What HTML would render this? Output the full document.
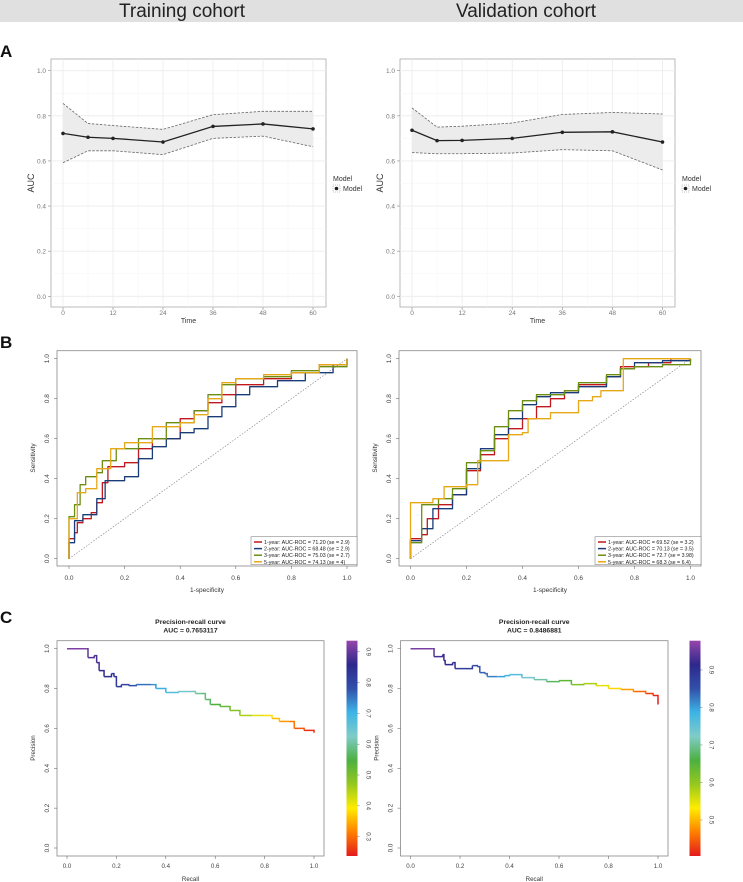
<!DOCTYPE html>
<html><head><meta charset="utf-8"><style>
html,body{margin:0;padding:0;background:#fff;}
svg{display:block;font-family:"Liberation Sans",sans-serif;}
</style></head><body>
<svg id="fig" width="743" height="882" viewBox="0 0 743 882" xmlns="http://www.w3.org/2000/svg"></svg>
<script>
// ---------- DATA ----------
const aTimes = [0, 6, 12, 24, 36, 48, 60];
const aTicks = [0, 12, 24, 36, 48, 60];
const aYTicks = [0, 0.2, 0.4, 0.6, 0.8, 1.0];
const trainAuc = [0.722, 0.705, 0.700, 0.684, 0.753, 0.764, 0.742];
const trainUpper = [0.855, 0.766, 0.757, 0.740, 0.805, 0.820, 0.820];
const trainLower = [0.592, 0.645, 0.645, 0.628, 0.700, 0.710, 0.663];
const validAuc = [0.736, 0.690, 0.691, 0.700, 0.727, 0.729, 0.684];
const validUpper = [0.835, 0.750, 0.754, 0.768, 0.806, 0.815, 0.808];
const validLower = [0.637, 0.632, 0.632, 0.635, 0.650, 0.645, 0.560];

const rocTicks = [0, 0.2, 0.4, 0.6, 0.8, 1.0];
const trainRoc1Fpr = [0,0,0.02,0.03,0.05,0.08,0.10,0.12,0.14,0.20,0.25,0.30,0.40,0.45,0.50,0.55,0.60,0.70,0.80,0.90,1];
const trainRoc1Tpr = [0,0.10,0.13,0.18,0.20,0.23,0.28,0.38,0.46,0.48,0.55,0.60,0.70,0.74,0.78,0.82,0.87,0.90,0.93,0.97,1];
const trainRoc2Fpr = [0,0,0.02,0.05,0.10,0.13,0.20,0.25,0.30,0.35,0.40,0.45,0.50,0.55,0.60,0.65,0.75,0.85,0.95,1,1];
const trainRoc2Tpr = [0,0.08,0.19,0.22,0.30,0.39,0.41,0.50,0.56,0.60,0.63,0.65,0.71,0.76,0.82,0.86,0.89,0.93,0.97,0.98,1];
const trainRoc3Fpr = [0,0,0.02,0.04,0.06,0.10,0.12,0.17,0.25,0.35,0.45,0.50,0.55,0.60,0.70,0.80,0.90,1];
const trainRoc3Tpr = [0,0.21,0.27,0.37,0.41,0.43,0.49,0.55,0.60,0.68,0.74,0.82,0.87,0.90,0.91,0.94,0.96,1];
const trainRoc5Fpr = [0,0,0.02,0.03,0.06,0.10,0.15,0.20,0.30,0.40,0.45,0.50,0.55,0.60,0.70,0.80,0.90,1];
const trainRoc5Tpr = [0,0.20,0.20,0.33,0.35,0.45,0.55,0.58,0.66,0.68,0.72,0.80,0.88,0.90,0.92,0.93,0.97,1];
const validRoc1Fpr = [0,0,0.04,0.06,0.10,0.15,0.20,0.25,0.30,0.35,0.40,0.45,0.50,0.55,0.60,0.70,0.75,0.85,0.93,1];
const validRoc1Tpr = [0,0.10,0.12,0.20,0.27,0.32,0.44,0.52,0.60,0.65,0.70,0.76,0.80,0.84,0.87,0.91,0.96,0.98,1,1];
const validRoc2Fpr = [0,0,0.04,0.08,0.15,0.20,0.25,0.30,0.35,0.40,0.45,0.50,0.60,0.70,0.75,0.80,0.90,1];
const validRoc2Tpr = [0,0.09,0.15,0.25,0.32,0.45,0.55,0.62,0.70,0.77,0.81,0.83,0.86,0.91,0.95,0.98,0.99,1];
const validRoc3Fpr = [0,0,0.04,0.04,0.10,0.15,0.20,0.25,0.30,0.35,0.40,0.45,0.55,0.60,0.70,0.75,0.80,0.90,1];
const validRoc3Tpr = [0,0.08,0.10,0.27,0.30,0.35,0.48,0.54,0.66,0.74,0.79,0.82,0.84,0.88,0.92,0.95,0.96,0.97,1];
const validRoc5Fpr = [0,0,0.08,0.12,0.20,0.24,0.24,0.35,0.35,0.40,0.42,0.50,0.58,0.60,0.65,0.68,0.76,0.76,1];
const validRoc5Tpr = [0,0.28,0.30,0.36,0.37,0.37,0.49,0.49,0.62,0.63,0.70,0.73,0.73,0.79,0.81,0.84,0.84,1,1];
const trainRocLabels = ["1-year: AUC-ROC = 71.20 (se = 2.9)","2-year: AUC-ROC = 68.48 (se = 2.9)","3-year: AUC-ROC = 75.03 (se = 2.7)","5-year: AUC-ROC = 74.13 (se = 4)"];
const validRocLabels = ["1-year: AUC-ROC = 69.52 (se = 3.2)","2-year: AUC-ROC = 70.13 (se = 3.5)","3-year: AUC-ROC = 72.7 (se = 3.98)","5-year: AUC-ROC = 68.3 (se = 6.4)"];

const trainPrRecall = [0,0.08,0.085,0.11,0.12,0.13,0.15,0.18,0.19,0.20,0.22,0.25,0.28,0.34,0.36,0.40,0.45,0.50,0.52,0.54,0.56,0.58,0.62,0.66,0.70,0.75,0.80,0.83,0.86,0.90,0.92,0.96,1.0];
const trainPrPrecision = [1,1,0.955,0.965,0.93,0.89,0.86,0.875,0.86,0.81,0.82,0.815,0.82,0.82,0.80,0.78,0.785,0.785,0.775,0.775,0.745,0.72,0.71,0.69,0.665,0.665,0.665,0.65,0.635,0.635,0.60,0.59,0.578];
const validPrRecall = [0,0.09,0.095,0.13,0.135,0.14,0.17,0.18,0.25,0.27,0.28,0.30,0.31,0.35,0.38,0.40,0.45,0.50,0.55,0.60,0.65,0.70,0.75,0.80,0.85,0.90,0.95,0.98,1.0,1.0];
const validPrPrecision = [1,1,0.96,0.97,0.94,0.92,0.93,0.90,0.915,0.91,0.88,0.875,0.86,0.86,0.865,0.87,0.855,0.845,0.835,0.84,0.82,0.825,0.815,0.80,0.795,0.785,0.775,0.765,0.755,0.72];
const trainCbTicks = [0.3,0.4,0.5,0.6,0.7,0.8,0.9];
const validCbTicks = [0.5,0.6,0.7,0.8,0.9];

// ---------- HELPERS ----------
const NS = "http://www.w3.org/2000/svg";
const svg = document.getElementById('fig');
function mk(tag, attrs, name, parent) {
  const el = document.createElementNS(NS, tag);
  for (const k in attrs) el.setAttribute(k, attrs[k]);
  
  
  (parent || svg).appendChild(el);
  return el;
}
function txt(x, y, s, size, name, opts) {
  opts = opts || {};
  const t = mk('text', {x: x, y: y, 'font-size': size, fill: opts.fill || '#333', 'text-anchor': opts.anchor || 'middle',
    'font-weight': opts.weight || 'normal'}, name);
  if (opts.rot) t.setAttribute('transform', 'rotate(' + opts.rot + ' ' + x + ' ' + y + ')');
  t.textContent = s;
  return t;
}
function lin(d0, d1, r0, r1) { return v => r0 + (v - d0) / (d1 - d0) * (r1 - r0); }

// ---------- HEADER ----------
mk('rect', {x: 0, y: 0, width: 743, height: 22, fill: '#e0e0e0'}, 'header-bar');
txt(182, 17, 'Training cohort', 19, 'training-cohort-title', {fill: '#222'});
txt(526, 17, 'Validation cohort', 19, 'validation-cohort-title', {fill: '#222'});
txt(0, 57, 'A', 17, 'panel-a-label', {anchor: 'start', weight: 'bold', fill: '#111'});
txt(0, 348, 'B', 17, 'panel-b-label', {anchor: 'start', weight: 'bold', fill: '#111'});
txt(0, 623, 'C', 17, 'panel-c-label', {anchor: 'start', weight: 'bold', fill: '#111'});

// ---------- SECTION A ----------
function drawA(px0, px1, x0, x1, auc, up, lo, prefix) {
  const X = lin(0, 60, x0, x1), Y = lin(0, 1, 296.3, 70.7);
  const top = 59, bot = 307;
  mk('rect', {x: px0, y: top, width: px1 - px0, height: bot - top, fill: '#fff', stroke: '#aaa', 'stroke-width': 0.8}, prefix + '-panel');
  for (let v = 0.1; v < 1.05; v += 0.2) mk('line', {x1: px0, x2: px1, y1: Y(v), y2: Y(v), stroke: '#f4f4f4', 'stroke-width': 0.5}, prefix + '-minor-grid-y');
  [6, 18, 30, 42, 54].forEach(t => mk('line', {x1: X(t), x2: X(t), y1: top, y2: bot, stroke: '#f4f4f4', 'stroke-width': 0.5}, prefix + '-minor-grid-x'));
  aYTicks.forEach(v => {
    mk('line', {x1: px0, x2: px1, y1: Y(v), y2: Y(v), stroke: '#ebebeb', 'stroke-width': 0.8}, prefix + '-grid-y');
    mk('line', {x1: px0 - 3, x2: px0, y1: Y(v), y2: Y(v), stroke: '#888', 'stroke-width': 0.6}, prefix + '-tick-y');
    txt(px0 - 5, Y(v) + 2.5, v.toFixed(1), 6.5, prefix + '-y-tick-label', {anchor: 'end', fill: '#777'});
  });
  aTicks.forEach(t => {
    mk('line', {x1: X(t), x2: X(t), y1: top, y2: bot, stroke: '#ebebeb', 'stroke-width': 0.8}, prefix + '-grid-x');
    mk('line', {x1: X(t), x2: X(t), y1: bot, y2: bot + 3, stroke: '#888', 'stroke-width': 0.6}, prefix + '-tick-x');
    txt(X(t), 315, String(t), 6.5, prefix + '-x-tick-label', {fill: '#777'});
  });
  let d = '';
  aTimes.forEach((t, i) => d += (i ? 'L' : 'M') + X(t) + ',' + Y(up[i]));
  for (let i = aTimes.length - 1; i >= 0; i--) d += 'L' + X(aTimes[i]) + ',' + Y(lo[i]);
  mk('path', {d: d + 'Z', fill: '#ececec', stroke: 'none'}, prefix + '-ci-ribbon');
  const pl = arr => aTimes.map((t, i) => X(t) + ',' + Y(arr[i])).join(' ');
  mk('polyline', {points: pl(up), fill: 'none', stroke: '#666', 'stroke-width': 0.8, 'stroke-dasharray': '2.5,1.5'}, prefix + '-upper-ci');
  mk('polyline', {points: pl(lo), fill: 'none', stroke: '#666', 'stroke-width': 0.8, 'stroke-dasharray': '2.5,1.5'}, prefix + '-lower-ci');
  mk('polyline', {points: pl(auc), fill: 'none', stroke: '#222', 'stroke-width': 1.3}, prefix + '-auc-line');
  aTimes.forEach((t, i) => mk('circle', {cx: X(t), cy: Y(auc[i]), r: 1.8, fill: '#222'}, prefix + '-auc-point'));
  txt((px0 + px1) / 2, 323, 'Time', 7, prefix + '-x-axis-title', {fill: '#333'});
  txt(px0 - 17, 183, 'AUC', 9, prefix + '-y-axis-title', {rot: -90, fill: '#333'});
  txt(px1 + 7, 181, 'Model', 7, prefix + '-legend-title', {anchor: 'start'});
  mk('rect', {x: px1 + 7, y: 185, width: 7, height: 7, fill: '#fff', stroke: '#888', 'stroke-width': 0.5, 'stroke-dasharray': '1,1'}, prefix + '-legend-key');
  mk('circle', {cx: px1 + 10.5, cy: 188.5, r: 1.8, fill: '#222'}, prefix + '-legend-key-point');
  txt(px1 + 17, 191, 'Model', 7, prefix + '-legend-label', {anchor: 'start'});
}
drawA(51, 326, 63, 313, trainAuc, trainUpper, trainLower, 'train-auc');
drawA(400, 675, 412, 662.5, validAuc, validUpper, validLower, 'valid-auc');

// ---------- SECTION B ----------
const rocColors = ['#c0181e', '#1a3d7a', '#6b8e12', '#e6a817'];
function drawB(bx0, bx1, x0, x1, fprs, tprs, labels, prefix) {
  const X = lin(0, 1, x0, x1), Y = lin(0, 1, 558.7, 358.7);
  mk('rect', {x: bx0, y: 350.7, width: bx1 - bx0, height: 566 - 350.7, fill: '#fff', stroke: '#888', 'stroke-width': 0.8}, prefix + '-box');
  rocTicks.forEach(v => {
    mk('line', {x1: X(v), x2: X(v), y1: 566, y2: 569, stroke: '#555', 'stroke-width': 0.5}, prefix + '-x-tick');
    txt(X(v), 580, v.toFixed(1), 6.5, prefix + '-x-tick-label', {fill: '#444'});
    mk('line', {x1: bx0 - 3, x2: bx0, y1: Y(v), y2: Y(v), stroke: '#555', 'stroke-width': 0.5}, prefix + '-y-tick');
    txt(bx0 - 8, Y(v), v.toFixed(1), 6.5, prefix + '-y-tick-label', {rot: -90, fill: '#444'});
  });
  txt((bx0 + bx1) / 2, 592, '1-specificity', 6.5, prefix + '-x-axis-title', {fill: '#333'});
  txt(bx0 - 22, 458, 'Sensitivity', 6.5, prefix + '-y-axis-title', {rot: -90, fill: '#333'});
  mk('line', {x1: X(0), y1: Y(0), x2: X(1), y2: Y(1), stroke: '#777', 'stroke-width': 0.6, 'stroke-dasharray': '1.5,1.5'}, prefix + '-diagonal');
  fprs.forEach((f, k) => {
    let pts = [];
    f.forEach((v, i) => {
      if (i > 0) pts.push(X(v) + ',' + Y(tprs[k][i - 1]));
      pts.push(X(v) + ',' + Y(tprs[k][i]));
    });
    mk('polyline', {points: pts.join(' '), fill: 'none', stroke: rocColors[k], 'stroke-width': 1.3, 'stroke-linejoin': 'round'}, prefix + '-roc-curve-' + (k + 1));
  });
  const lx = bx1 - 106;
  mk('rect', {x: lx, y: 536.7, width: 106, height: 28, fill: '#fff', stroke: '#888', 'stroke-width': 0.6}, prefix + '-legend-box');
  labels.forEach((s, k) => {
    const ly = 542 + k * 6.6;
    mk('line', {x1: lx + 3, x2: lx + 11, y1: ly, y2: ly, stroke: rocColors[k], 'stroke-width': 1.5}, prefix + '-legend-swatch');
    txt(lx + 13, ly + 2, s, 5.3, prefix + '-legend-label', {anchor: 'start', fill: '#222'});
  });
}
drawB(57, 357, 69, 347, [trainRoc1Fpr, trainRoc2Fpr, trainRoc3Fpr, trainRoc5Fpr], [trainRoc1Tpr, trainRoc2Tpr, trainRoc3Tpr, trainRoc5Tpr], trainRocLabels, 'train-roc');
drawB(399, 701, 410.5, 690.5, [validRoc1Fpr, validRoc2Fpr, validRoc3Fpr, validRoc5Fpr], [validRoc1Tpr, validRoc2Tpr, validRoc3Tpr, validRoc5Tpr], validRocLabels, 'valid-roc');

// ---------- SECTION C ----------
const rainbow = [[228,26,28],[255,128,0],[255,236,0],[150,200,30],[76,176,64],[128,204,200],[60,180,230],[50,80,170],[45,40,140],[150,70,170]];
function rcol(f) {
  f = Math.max(0, Math.min(1, f)) * (rainbow.length - 1);
  const i = Math.min(rainbow.length - 2, Math.floor(f)), t = f - i;
  const c = rainbow[i].map((v, j) => Math.round(v + (rainbow[i + 1][j] - v) * t));
  return 'rgb(' + c.join(',') + ')';
}
function drawC(bx0, bx1, x0, x1, rec, prec, auc, cbx, cbLo, cbHi, cbTicks, prefix) {
  const X = lin(0, 1, x0, x1), Y = lin(0, 1, 848, 648.7);
  const top = 640.7, bot = 856;
  mk('rect', {x: bx0, y: top, width: bx1 - bx0, height: bot - top, fill: '#fff', stroke: '#888', 'stroke-width': 0.8}, prefix + '-box');
  const cx = (bx0 + bx1) / 2;
  txt(cx, 624, 'Precision-recall curve', 6.8, prefix + '-title', {weight: 'bold', fill: '#222'});
  txt(cx, 632.5, 'AUC = ' + auc, 6.8, prefix + '-subtitle', {weight: 'bold', fill: '#222'});
  rocTicks.forEach(v => {
    mk('line', {x1: X(v), x2: X(v), y1: bot, y2: bot + 3, stroke: '#555', 'stroke-width': 0.5}, prefix + '-x-tick');
    txt(X(v), 868, v.toFixed(1), 6.2, prefix + '-x-tick-label', {fill: '#444'});
    mk('line', {x1: bx0 - 3, x2: bx0, y1: Y(v), y2: Y(v), stroke: '#555', 'stroke-width': 0.5}, prefix + '-y-tick');
    txt(bx0 - 8, Y(v), v.toFixed(1), 6.2, prefix + '-y-tick-label', {rot: -90, fill: '#444'});
  });
  txt(cx, 881, 'Recall', 6.2, prefix + '-x-axis-title', {fill: '#333'});
  txt(bx0 - 22, 748, 'Precision', 6.2, prefix + '-y-axis-title', {rot: -90, fill: '#333'});
  const n = rec.length;
  for (let i = 1; i < n; i++) {
    const rm = (rec[i - 1] + rec[i]) / 2;
    const f = 1 - Math.pow(rm, 1.15);
    const c = rcol(f);
    mk('polyline', {points: X(rec[i - 1]) + ',' + Y(prec[i - 1]) + ' ' + X(rec[i]) + ',' + Y(prec[i - 1]) + ' ' + X(rec[i]) + ',' + Y(prec[i]),
      fill: 'none', stroke: c, 'stroke-width': 1.5}, prefix + '-pr-segment');
  }
  const g = mk('linearGradient', {id: prefix + '-grad', x1: 0, y1: 1, x2: 0, y2: 0}, prefix + '-gradient');
  rainbow.forEach((c, i) => mk('stop', {offset: (i / (rainbow.length - 1)), 'stop-color': 'rgb(' + c.join(',') + ')'}, prefix + '-gradient-stop', g));
  mk('rect', {x: cbx, y: top, width: 11, height: bot - top, fill: 'url(#' + prefix + '-grad)'}, prefix + '-colorbar');
  const CB = lin(cbLo, cbHi, bot, top);
  cbTicks.forEach(v => {
    mk('line', {x1: cbx + 11, x2: cbx + 13, y1: CB(v), y2: CB(v), stroke: '#666', 'stroke-width': 0.5}, prefix + '-colorbar-tick');
    txt(cbx + 20, CB(v), v.toFixed(1), 6.2, prefix + '-colorbar-label', {rot: 90, fill: '#444'});
  });
}
drawC(57, 324, 67, 314, trainPrRecall, trainPrPrecision, '0.7653117', 346.5, 0.237, 0.936, trainCbTicks, 'train-pr');
drawC(400.5, 668, 410.5, 658, validPrRecall, validPrPrecision, '0.8486881', 689.5, 0.404, 0.978, validCbTicks, 'valid-pr');
</script>
</body></html>
